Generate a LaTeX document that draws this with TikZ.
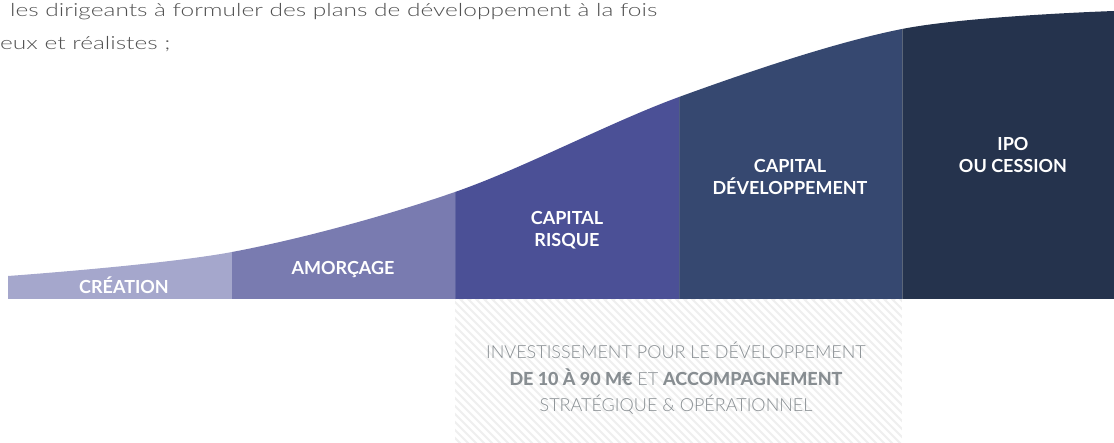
\documentclass[tikz,border=0pt]{standalone}
\usepackage{fontspec}
\setmainfont{Lato}
\newfontfamily\lightfont{Lato Light}
\newfontfamily\heavyfont{Lato Heavy}
\newfontfamily\headfont{Lato Light}[FakeStretch=1.36]
\definecolor{cCre}{RGB}{165,167,204}
\definecolor{cAmo}{RGB}{121,123,176}
\definecolor{cRis}{RGB}{75,80,150}
\definecolor{cDev}{RGB}{54,72,112}
\definecolor{cIpo}{RGB}{37,51,77}
\definecolor{cHead}{RGB}{80,80,80}
\definecolor{cBoxTxt}{RGB}{136,142,146}
\definecolor{cHatchBg}{RGB}{239,239,239}
\tikzset{
  stage/.style={text=white,font=\bfseries\fontsize{18}{21.5}\selectfont,align=center,inner sep=0pt},
  head/.style={text=cHead,font=\headfont\fontsize{18}{20}\selectfont,anchor=base west,inner sep=0pt},
  boxtxt/.style={text=cBoxTxt,font=\lightfont\fontsize{18}{20}\selectfont,inner sep=0pt},
  sep/.style={white,opacity=0.12,line width=1pt}
}
\begin{document}
\begin{tikzpicture}[x=1pt,y=-1pt]
\useasboundingbox (0,0) rectangle (1114,443);
% header text
\node[head] (h1) at (10,17) {les dirigeants à formuler des plans de développement à la fois};
\node[head] (h2) at (0,50) {eux et réalistes ;};
% hatched box
\begin{scope}
  \clip (455,299) rectangle (902,443);
  \fill[cHatchBg] (455,299) rectangle (902,443);
  \foreach \x in {296,304,...,910} {
    \draw[white,line width=3.2pt] (\x,299) -- (\x+150,449);
  }
\end{scope}
% curve columns
\begin{scope}
  \clip (8,299) -- plot[smooth,tension=0.55] coordinates {(8,276) (232,252) (455,192) (679,97) (902,29) (1114,11)} -- (1114,299) -- cycle;
  \fill[cCre] (8,0) rectangle (232,299);
  \fill[cAmo] (232,0) rectangle (455,299);
  \fill[cRis] (455,0) rectangle (679,299);
  \fill[cDev] (679,0) rectangle (902,299);
  \fill[cIpo] (902,0) rectangle (1114,299);
  \draw[sep] (455,0) -- (455,299);
  \draw[sep] (679,0) -- (679,299);
  \draw[sep,opacity=0.25] (902,0) -- (902,299);
\end{scope}
% labels
\node[stage] (cre) at (124,285) {CRÉATION};
\node[stage] (amo) at (343,270) {AMORÇAGE};
\node[stage] (ris) at (567,230) {CAPITAL\\RISQUE};
\node[stage] (dev) at (790,177) {CAPITAL\\DÉVELOPPEMENT};
\node[stage] (ipo) at (1013,155) {IPO\\OU CESSION};
% box text
\node[boxtxt] (b1) at (676,350) {INVESTISSEMENT POUR LE DÉVELOPPEMENT};
\node[boxtxt] (b2) at (676,377) {{\heavyfont DE 10 À 90 M€} ET {\heavyfont ACCOMPAGNEMENT}};
\node[boxtxt] (b3) at (676,405) {STRATÉGIQUE \& OPÉRATIONNEL};
\end{tikzpicture}
\end{document}
